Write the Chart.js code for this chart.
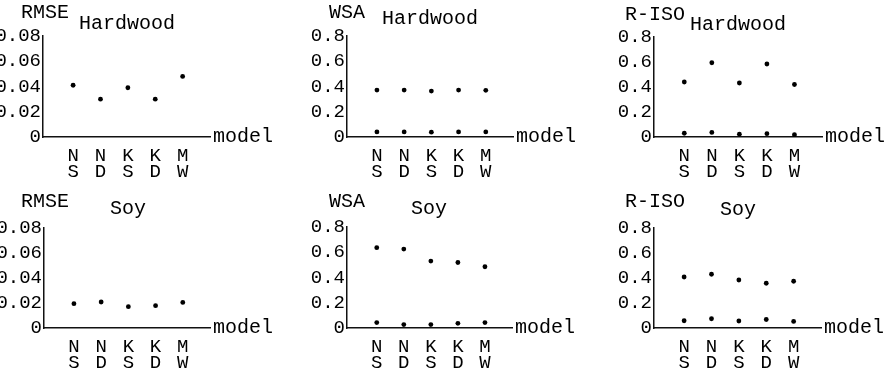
<!DOCTYPE html>
<html>
<head>
<meta charset="utf-8">
<script src="https://cdn.jsdelivr.net/npm/chart.js@4/dist/chart.umd.min.js"></script>
<style>
  html,body{margin:0;padding:0;background:#fff;}
  #wrap{position:relative;width:888px;height:370px;background:#fff;overflow:hidden;}
  .cell{position:absolute;width:296px;height:185px;}
</style>
</head>
<body>
<div id="wrap"></div>
<script>
// ---------- data ----------
const categories = [['N','S'],['N','D'],['K','S'],['K','D'],['M','W']];
const metrics = ['RMSE','WSA','R-ISO'];
const crops = ['Hardwood','Soy'];
const xTitle = 'model';
const rmseTicks = ['0','0.02','0.04','0.06','0.08'];
const fracTicks = ['0','0.2','0.4','0.6','0.8'];

const rmseHardwood = [0.041, 0.030, 0.039, 0.030, 0.048];
const wsaHardwoodHigh = [0.372, 0.372, 0.364, 0.372, 0.370];
const wsaHardwoodLow = [0.040, 0.040, 0.038, 0.040, 0.040];
const risoHardwoodHigh = [0.440, 0.594, 0.432, 0.584, 0.420];
const risoHardwoodLow = [0.030, 0.037, 0.022, 0.027, 0.018];

const rmseSoy = [0.0195, 0.0208, 0.0171, 0.0179, 0.0205];
const wsaSoyHigh = [0.636, 0.625, 0.530, 0.519, 0.485];
const wsaSoyLow = [0.043, 0.027, 0.027, 0.037, 0.043];
const risoSoyHigh = [0.408, 0.430, 0.384, 0.358, 0.374];
const risoSoyLow = [0.058, 0.074, 0.056, 0.068, 0.053];

// ---------- layout ----------
const FONT = '"Liberation Mono","Courier New",monospace';
const panels = [
  {row:0,col:0,metric:0,crop:0,series:[rmseHardwood],max:0.08,step:0.02,ticks:rmseTicks,
   g:{left:43,top:36,bottom:137,right:210},yT:[21,13],cT:[79,24]},
  {row:0,col:1,metric:1,crop:0,series:[wsaHardwoodHigh,wsaHardwoodLow],max:0.8,step:0.2,ticks:fracTicks,
   g:{left:51,top:36,bottom:137,right:217},yT:[33,13],cT:[86,19]},
  {row:0,col:2,metric:2,crop:0,series:[risoHardwoodHigh,risoHardwoodLow],max:0.8,step:0.2,ticks:fracTicks,
   g:{left:62,top:37,bottom:137,right:230},yT:[33,15],cT:[98,25]},
  {row:1,col:0,metric:0,crop:1,series:[rmseSoy],max:0.08,step:0.02,ticks:rmseTicks,
   g:{left:44,top:43,bottom:143,right:210},yT:[21,17],cT:[110,24]},
  {row:1,col:1,metric:1,crop:1,series:[wsaSoyHigh,wsaSoyLow],max:0.8,step:0.2,ticks:fracTicks,
   g:{left:51,top:42,bottom:143,right:216},yT:[33,17],cT:[115,24]},
  {row:1,col:2,metric:2,crop:1,series:[risoSoyHigh,risoSoyLow],max:0.8,step:0.2,ticks:fracTicks,
   g:{left:62,top:43,bottom:143,right:229},yT:[33,17],cT:[128,25]}
];

const textPlugin = {
  id:'panelText',
  afterDraw(chart, args, o){
    const ctx = chart.ctx, a = chart.chartArea;
    ctx.save();
    ctx.fillStyle = '#000';
    ctx.textAlign = 'left';
    ctx.textBaseline = 'middle';
    ctx.font = '20px ' + FONT;
    ctx.fillText(o.yTitle, o.yT[0], o.yT[1]);
    ctx.fillText(o.cTitle, o.cT[0], o.cT[1]);
    ctx.fillText(o.xTitle, a.right + 3, a.bottom);
    ctx.restore();
  }
};

const wrap = document.getElementById('wrap');
panels.forEach(p => {
  const div = document.createElement('div');
  div.className = 'cell';
  div.style.left = (p.col*296) + 'px';
  div.style.top = (p.row*185) + 'px';
  const cv = document.createElement('canvas');
  cv.width = 296; cv.height = 185;
  cv.style.width = '296px'; cv.style.height = '185px';
  div.appendChild(cv);
  wrap.appendChild(div);
  const g = p.g;
  new Chart(cv, {
    type:'scatter',
    data:{
      datasets: p.series.map(vals => ({
        data: vals.map((v,i) => ({x:i+1, y:v})),
        pointRadius:2.4, pointHoverRadius:2.4,
        backgroundColor:'#000', borderColor:'#000', pointBorderWidth:0, showLine:false
      }))
    },
    options:{
      responsive:false, animation:false, devicePixelRatio:1,
      layout:{padding:{top:g.top, right:296-g.right, left:0, bottom:0}},
      plugins:{
        legend:{display:false}, tooltip:{enabled:false},
        panelText:{yTitle:metrics[p.metric], cTitle:crops[p.crop], xTitle:xTitle, yT:p.yT, cT:p.cT}
      },
      scales:{
        x:{
          type:'linear', min:-0.1, max:6,
          grid:{display:false, drawTicks:false},
          border:{display:true, color:'#111', width:1.5},
          ticks:{
            stepSize:1, autoSkip:false, maxRotation:0, padding:11, color:'#000',
            font:{family:FONT, size:19, lineHeight:0.85},
            callback:(v) => {
              const r = Math.round(v);
              if (Math.abs(v - r) > 1e-6) return '';
              return categories[r-1] || '';
            }
          },
          afterFit:(s) => { s.height = 185 - g.bottom; s.paddingLeft = 0; s.paddingRight = 0; }
        },
        y:{
          min:0, max:p.max,
          grid:{display:false, drawTicks:false},
          border:{display:true, color:'#111', width:1.5},
          ticks:{
            stepSize:p.step, autoSkip:false, padding:2, color:'#000',
            font:{family:FONT, size:19},
            callback:(v) => {
              const i = Math.round(v / p.step);
              return p.ticks[i] !== undefined ? p.ticks[i] : '';
            }
          },
          afterFit:(s) => { s.width = g.left; }
        }
      }
    },
    plugins:[textPlugin]
  });
});
</script>
</body>
</html>
